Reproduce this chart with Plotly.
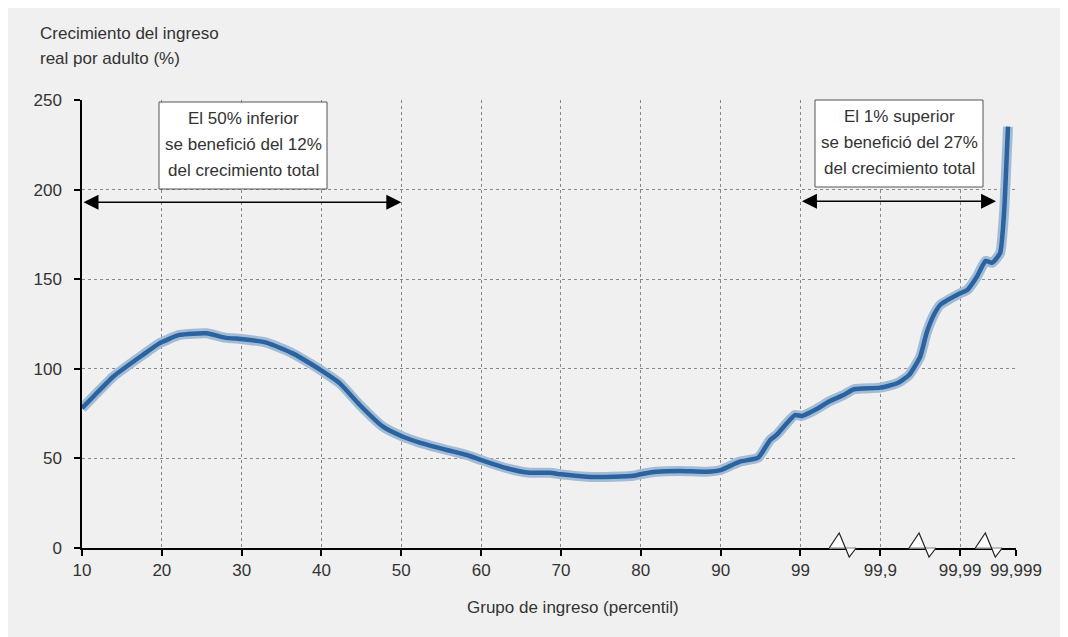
import plotly.graph_objects as go

# eje x no lineal: 0 = percentil 10 ... 8 = p90, 9 = p99, 10 = p99,9, 11 = p99,99, 11.7 = p99,999
tick_pos = [0, 1, 2, 3, 4, 5, 6, 7, 8, 9, 10, 11, 11.699]
tick_txt = ['10', '20', '30', '40', '50', '60', '70', '80', '90', '99', '99,9', '99,99', '99,999']

pos = [0, 0.14, 0.39, 0.76, 0.97, 1.22, 1.56, 1.79, 2.02, 2.31, 2.64, 2.89, 3.02, 3.23, 3.48,
       3.77, 4.02, 4.23, 4.57, 4.82, 5.0, 5.32, 5.61, 5.86, 6.0, 6.32, 6.66, 6.91, 7.01, 7.2,
       7.49, 7.83, 8.0, 8.24, 8.47, 8.62, 8.70, 8.93, 9.02, 9.18, 9.37, 9.54, 9.67, 10.0, 10.21,
       10.36, 10.50, 10.58, 10.67, 10.75, 11.0, 11.09, 11.21, 11.32, 11.40, 11.50, 11.55, 11.58, 11.60]
crec = [78, 84.4, 95.6, 107.7, 114.2, 118.9, 119.8, 117.4, 116.5, 114.6, 108.6, 102.1, 98.4, 91.9, 79.8,
        67.7, 62.1, 58.8, 54.7, 51.9, 49.1, 44.5, 42, 42, 41.1, 39.8, 39.8, 40.3, 41.3, 42.6,
        43, 42.6, 43.5, 48.2, 50.4, 60.3, 63.1, 74.2, 73.7, 77, 82, 85.4, 88.6, 89.5, 91.9,
        96.5, 106.8, 120, 130, 135.6, 142.1, 144, 151.4, 160.2, 159.2, 164.5, 186.8, 214.7, 235.1]

cortes = [9.36, 10.36, 11.19]  # quiebres del eje x

titulo_y = ['Crecimiento del ingreso', 'real por adulto (%)']
texto_inf = ['El 50% inferior', 'se benefició del 12%', 'del crecimiento total']
texto_sup = ['El 1% superior', 'se benefició del 27%', 'del crecimiento total']

FONT = 'Liberation Sans, Arial, sans-serif'
TXT = '#333333'
W, H = 1068, 637
ML, MR, MT, MB = 74, 60, 92, 97
PW, PH = W - ML - MR, H - MT - MB
XMAX = 11.7
OFF = 8  # margen del body en la pagina


def px(sx):
    return (sx - OFF - ML) / PW


def py(sy):
    return (H - MB - (sy - OFF)) / PH


fig = go.Figure()

# halo claro + linea principal
fig.add_trace(go.Scatter(x=pos, y=crec, mode='lines', line=dict(color='#a3bcd6', width=10, shape='spline', smoothing=0.5),
                         hoverinfo='skip', showlegend=False))
fig.add_trace(go.Scatter(x=pos, y=crec, mode='lines', line=dict(color='#2b63a0', width=4.5, shape='spline', smoothing=0.5),
                         showlegend=False))

shapes = []
annots = []

# zigzags de quiebre del eje
for c in cortes:
    x0 = c / XMAX
    xa = x0 + 10 / PW
    xb = x0 + 20 / PW
    x1 = x0 + 27 / PW
    ya = 15 / PH
    yb = -9 / PH
    shapes.append(dict(type='path', xref='paper', yref='paper', layer='above',
                       path=f'M{x0},0 L{xa},{ya} L{xb},{yb} L{x1},0 Z',
                       fillcolor='white', line=dict(width=0)))
    shapes.append(dict(type='line', xref='paper', yref='paper', layer='above',
                       x0=x0, x1=x1, y0=0, y1=0, line=dict(color='#aaaaaa', width=1.5)))
    shapes.append(dict(type='path', xref='paper', yref='paper', layer='above',
                       path=f'M{x0},0 L{xa},{ya} L{xb},{yb} L{x1},0',
                       line=dict(color='#222222', width=1.2)))

# cajas de texto
cajas = [((159, 102, 327, 189), texto_inf), ((815, 100, 983, 187), texto_sup)]
for (bx0, by0, bx1, by1), lineas in cajas:
    shapes.append(dict(type='rect', xref='paper', yref='paper', layer='above',
                       x0=px(bx0), x1=px(bx1), y0=py(by1), y1=py(by0),
                       fillcolor='white', line=dict(color='#555555', width=1)))
    cx = (bx0 + bx1) / 2
    cy = (by0 + by1) / 2
    for i, t in enumerate(lineas):
        annots.append(dict(xref='paper', yref='paper', x=px(cx), y=py(cy + (i - 1) * 26 - 1),
                           xanchor='center', yanchor='middle', showarrow=False, text=t,
                           font=dict(family=FONT, size=17, color=TXT)))

# titulo del eje y (dos lineas)
for i, t in enumerate(titulo_y):
    annots.append(dict(xref='paper', yref='paper', x=px(38), y=py(33 + i * 26),
                       xanchor='left', yanchor='middle', showarrow=False, text=t,
                       font=dict(family=FONT, size=17, color=TXT)))

annots.append(dict(xref='paper', yref='paper', x=px(573), y=py(607),
                   xanchor='center', yanchor='middle', showarrow=False,
                   text='Grupo de ingreso (percentil)',
                   font=dict(family=FONT, size=17, color=TXT)))

flechas = [(0, 4, 193), (9, 11.45, 193.5)]
for xa_, xb_, yy in flechas:
    annots.append(dict(x=xb_, y=yy, ax=xa_, ay=yy, xref='x', yref='y', axref='x', ayref='y',
                       text='', showarrow=True, arrowhead=2, startarrowhead=2, arrowside='end+start',
                       arrowsize=2, startarrowsize=2, arrowwidth=1.5, arrowcolor='black',
                       standoff=0, startstandoff=0))

fig.update_layout(
    width=W, height=H,
    margin=dict(l=ML, r=MR, t=MT, b=MB),
    paper_bgcolor='#f0f0f0', plot_bgcolor='#f0f0f0',
    font=dict(family=FONT, size=17, color=TXT),
    shapes=shapes, annotations=annots,
    xaxis=dict(range=[0, XMAX], tickvals=tick_pos, ticktext=tick_txt, tickangle=0,
               showgrid=True, gridcolor='#888888', griddash='dot', gridwidth=1,
               showline=True, linecolor='black', linewidth=1.5,
               ticks='outside', ticklen=6, tickcolor='black', tickwidth=1.5,
               zeroline=False, tickfont=dict(family=FONT, size=17, color=TXT)),
    yaxis=dict(range=[0, 250], tickvals=[0, 50, 100, 150, 200, 250],
               showgrid=True, gridcolor='#888888', griddash='dot', gridwidth=1,
               showline=True, linecolor='black', linewidth=1.5,
               ticks='outside', ticklen=6, tickcolor='black', tickwidth=1.5,
               zeroline=False, ticklabelstandoff=9,
               tickfont=dict(family=FONT, size=17, color=TXT)),
)

fig.write_html('out.html')
